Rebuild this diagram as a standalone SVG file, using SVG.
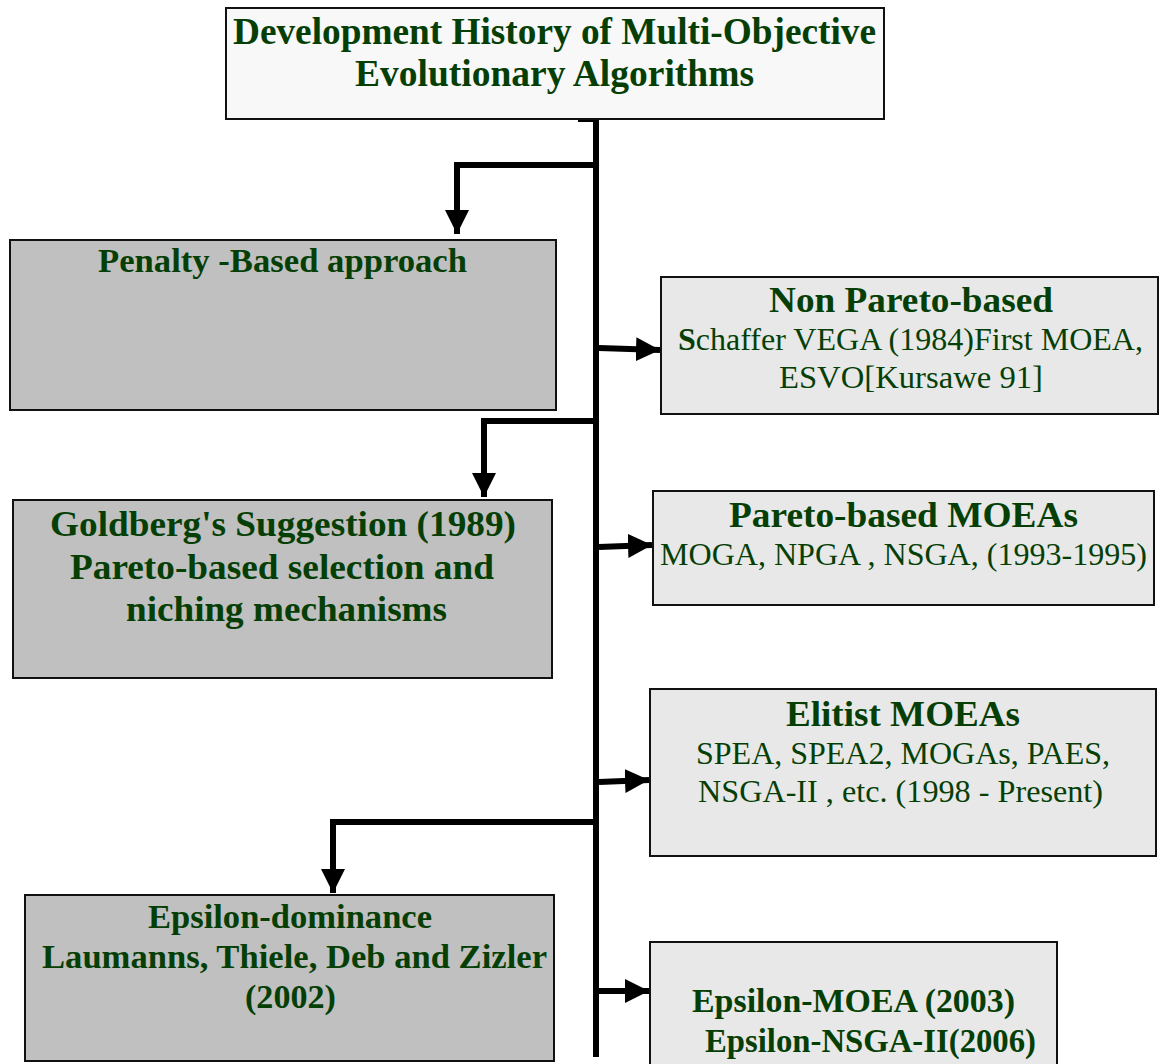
<svg xmlns="http://www.w3.org/2000/svg" width="1159" height="1064" viewBox="0 0 1159 1064">
<style>
.box{stroke:#111;stroke-width:2}
.dark{fill:#c0c0c0}
.light{fill:#e8e8e8}
.title{fill:#f8f8f8}
text{font-family:"Liberation Serif","Times New Roman",serif;fill:#063f06;text-anchor:middle}
.b{font-weight:bold}
.conn{fill:none;stroke:#000;stroke-width:6}
</style>
<defs>
<marker id="ah" viewBox="0 0 10 10" refX="10" refY="5" markerWidth="4" markerHeight="4" orient="auto" markerUnits="strokeWidth">
<path d="M0,0 L10,5 L0,10 z" fill="#000"/>
</marker>
</defs>
<rect width="1159" height="1064" fill="#fff"/>

<g id="connectors">
<path class="conn" d="M578,119 H596 V1057"/>
<path class="conn" d="M596,165 H457 V234" marker-end="url(#ah)"/>
<path class="conn" d="M599,348 L660,350" marker-end="url(#ah)"/>
<path class="conn" d="M596,421 H484 V497" marker-end="url(#ah)"/>
<path class="conn" d="M599,547 L652,545" marker-end="url(#ah)"/>
<path class="conn" d="M599,782 L649,780" marker-end="url(#ah)"/>
<path class="conn" d="M596,822 H333 V893" marker-end="url(#ah)"/>
<path class="conn" d="M599,991 L649,991" marker-end="url(#ah)"/>
</g>

<g id="title">
<rect class="box title" x="226" y="8" width="658" height="111"/>
<text class="b" x="554.5" y="44" font-size="38" textLength="643" lengthAdjust="spacingAndGlyphs">Development History of Multi-Objective</text>
<text class="b" x="554.5" y="86" font-size="38" textLength="399" lengthAdjust="spacingAndGlyphs">Evolutionary Algorithms</text>
</g>

<g id="penalty">
<rect class="box dark" x="10" y="240" width="546" height="170"/>
<text class="b" x="282.5" y="272" font-size="33" textLength="369" lengthAdjust="spacingAndGlyphs">Penalty -Based approach</text>
</g>

<g id="nonpareto">
<rect class="box light" x="661" y="277" width="497" height="137"/>
<text class="b" x="911" y="312" font-size="36" textLength="284" lengthAdjust="spacingAndGlyphs">Non Pareto-based</text>
<text x="910.5" y="350" font-size="31" textLength="465" lengthAdjust="spacingAndGlyphs"><tspan class="b">S</tspan>chaffer VEGA (1984)First MOEA,</text>
<text x="911" y="388" font-size="31" textLength="264" lengthAdjust="spacingAndGlyphs">ESVO[Kursawe  91]</text>
</g>

<g id="goldberg">
<rect class="box dark" x="13" y="500" width="539" height="178"/>
<text class="b" x="283" y="536" font-size="36" textLength="466" lengthAdjust="spacingAndGlyphs">Goldberg's Suggestion (1989)</text>
<text class="b" x="282" y="579" font-size="36" textLength="424" lengthAdjust="spacingAndGlyphs">Pareto-based selection and</text>
<text class="b" x="286.5" y="621" font-size="36" textLength="321" lengthAdjust="spacingAndGlyphs">niching mechanisms</text>
</g>

<g id="pareto">
<rect class="box light" x="653" y="491" width="501" height="114"/>
<text class="b" x="903.5" y="527" font-size="36" textLength="349" lengthAdjust="spacingAndGlyphs">Pareto-based MOEAs</text>
<text x="903.5" y="565" font-size="32" textLength="487" lengthAdjust="spacingAndGlyphs">MOGA, NPGA , NSGA, (1993-1995)</text>
</g>

<g id="elitist">
<rect class="box light" x="650" y="689" width="506" height="167"/>
<text class="b" x="903" y="726" font-size="36" textLength="234" lengthAdjust="spacingAndGlyphs">Elitist MOEAs</text>
<text x="903" y="764" font-size="32" textLength="414" lengthAdjust="spacingAndGlyphs">SPEA, SPEA2, MOGAs, PAES,</text>
<text x="900.5" y="802" font-size="32" textLength="405" lengthAdjust="spacingAndGlyphs">NSGA-II , etc.  (1998 - Present)</text>
</g>

<g id="epsdom">
<rect class="box dark" x="25" y="895" width="529" height="166"/>
<text class="b" x="290" y="928" font-size="34" textLength="284" lengthAdjust="spacingAndGlyphs">Epsilon-dominance</text>
<text class="b" x="294.5" y="968" font-size="34" textLength="505" lengthAdjust="spacingAndGlyphs">Laumanns, Thiele, Deb and Zizler</text>
<text class="b" x="290.5" y="1008" font-size="34" textLength="91" lengthAdjust="spacingAndGlyphs">(2002)</text>
</g>

<g id="epsmoea">
<rect class="box light" x="650" y="942" width="407" height="130"/>
<text class="b" x="853.5" y="1012" font-size="33" textLength="323" lengthAdjust="spacingAndGlyphs">Epsilon-MOEA (2003)</text>
<text class="b" x="870.5" y="1052" font-size="33" textLength="331" lengthAdjust="spacingAndGlyphs">Epsilon-NSGA-II(2006)</text>
</g>
</svg>
